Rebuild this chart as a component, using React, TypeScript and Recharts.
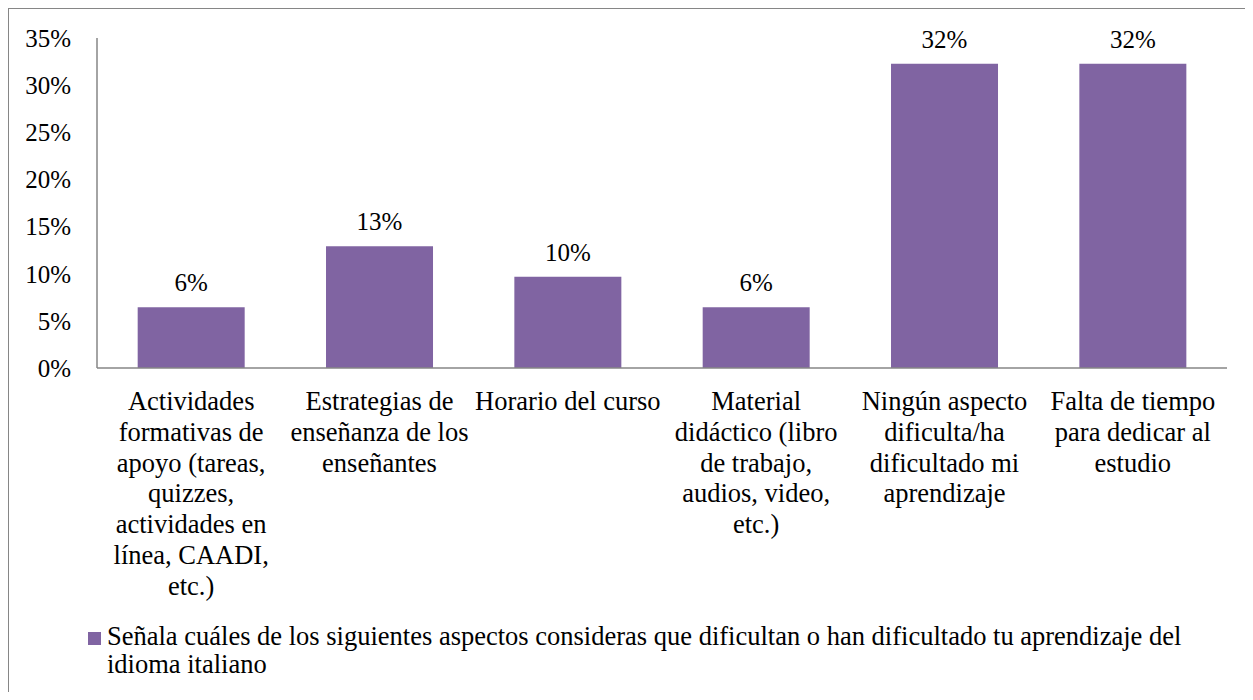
import { BarChart, Bar, XAxis, YAxis, LabelList } from 'recharts'

const categories = [
  'Actividades\nformativas de\napoyo (tareas,\nquizzes,\nactividades en\nlínea, CAADI,\netc.)',
  'Estrategias de\nenseñanza de los\nenseñantes',
  'Horario del curso',
  'Material\ndidáctico (libro\nde trabajo,\naudios, video,\netc.)',
  'Ningún aspecto\ndificulta/ha\ndificultado mi\naprendizaje',
  'Falta de tiempo\npara dedicar al\nestudio',
]
const values = [6.45, 12.9, 9.68, 6.45, 32.26, 32.26]
const yTicks = [0, 5, 10, 15, 20, 25, 30, 35]
const seriesName =
  'Señala cuáles de los siguientes aspectos consideras que dificultan o han dificultado tu aprendizaje del idioma italiano'

const data = categories.map((c, i) => ({ cat: c, value: values[i] }))

const FONT = '"Liberation Serif", "Times New Roman", serif'
const PURPLE = '#8064A2'
const GRAY = '#868686'

function CatTick(props: any) {
  const { x, y, payload } = props
  const lines: string[] = String(payload.value).split('\n')
  return (
    <text x={x} y={y + 34} textAnchor="middle" fontSize={26.5} fontFamily={FONT} fill="#000">
      {lines.map((l, i) => (
        <tspan key={i} x={x} dy={i === 0 ? 0 : 30.8}>
          {l}
        </tspan>
      ))}
    </text>
  )
}

export default function App() {
  return (
    <div style={{ width: 1237, height: 684, overflow: 'hidden', fontFamily: FONT }}>
      <div style={{ width: 1260, height: 710, border: `1px solid ${GRAY}`, position: 'relative', background: '#fff' }}>
        <BarChart
          width={1250}
          height={690}
          data={data}
          margin={{ top: 29, right: 32, bottom: 81, left: 0 }}
          barCategoryGap="21.6%"
          style={{ fontFamily: FONT }}
        >
          <XAxis
            dataKey="cat"
            axisLine={{ stroke: GRAY, strokeWidth: 1.5 }}
            tickLine={false}
            interval={0}
            height={250}
            tick={<CatTick />}
          />
          <YAxis
            width={88}
            domain={[0, 35]}
            ticks={yTicks}
            interval={0}
            axisLine={{ stroke: GRAY, strokeWidth: 1.5 }}
            tickLine={false}
            tickMargin={20}
            tickFormatter={(v: number) => `${v}%`}
            tick={{ fill: '#000', fontSize: 25, fontFamily: FONT }}
          />
          <Bar dataKey="value" name={seriesName} fill={PURPLE} isAnimationActive={false}>
            <LabelList
              dataKey="value"
              position="top"
              offset={16}
              formatter={(v: any) => `${Math.round(Number(v))}%`}
              fill="#000"
              fontSize={25}
              fontFamily={FONT}
            />
          </Bar>
        </BarChart>
        {/* legend */}
        <div
          style={{
            position: 'absolute',
            left: 79,
            top: 613,
            display: 'flex',
            alignItems: 'flex-start',
            fontSize: 26.5,
            lineHeight: '28px',
            color: '#000',
          }}
        >
          <span style={{ display: 'inline-block', width: 13, height: 13, background: PURPLE, marginTop: 10, marginRight: 6, flexShrink: 0 }} />
          <span style={{ width: 1110 }}>{seriesName}</span>
        </div>
      </div>
    </div>
  )
}
